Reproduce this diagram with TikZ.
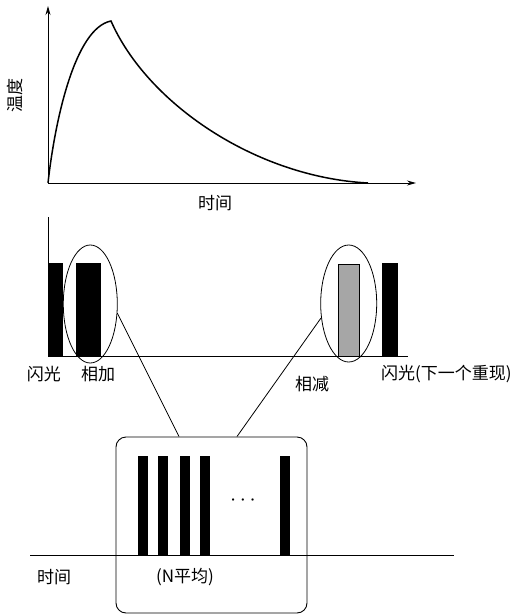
\documentclass[tikz,border=0pt]{standalone}
\usepackage{fontspec}
\newfontfamily\cjk{Noto Sans CJK SC}
\usetikzlibrary{arrows.meta,shapes.geometric}
\begin{document}
\begin{tikzpicture}[x=1pt,y=-1pt,
  axis/.style={line width=0.9pt},
  arr/.style={-{Stealth[length=9pt,width=5pt]}},
  blackbar/.style={fill=black,draw=black},
  graybar/.style={fill=black!35,draw=black,line width=0.9pt},
  lbl/.style={font=\cjk\fontsize{17}{17}\selectfont,inner sep=0pt},
  ring/.style={draw,line width=0.8pt},
  conn/.style={line width=0.8pt},
  bigbox/.style={draw,rounded corners=10pt,line width=0.9pt}]
\useasboundingbox (0,0) rectangle (522,616);
% top plot
\coordinate (o) at (48,183);
\coordinate (ytop) at (48,6);
\coordinate (xend) at (416,183);
\draw[axis,arr] (o) -- (ytop);
\draw[axis,arr] (o) -- (xend);
\coordinate (peak) at (111,21);
\coordinate (tail) at (368,183);
\draw[line width=1.5pt] (o) .. controls (55,120) and (75,28) .. (peak)
  .. controls (147,103) and (255,177) .. (tail);
\node[lbl,rotate=90] (temp) at (15,95) {温度};
\node[lbl] (t1) at (215,203) {时间};
% middle
\coordinate (m0) at (48,356);
\coordinate (mtop) at (48,217);
\coordinate (mend) at (408,356);
\draw[axis] (mtop) -- (m0) -- (mend);
\fill[blackbar] (48,263.5) rectangle (62,356);
\fill[blackbar] (76,263.5) rectangle (100,356);
\draw[graybar] (338.5,264) rectangle (359.5,356);
\fill[blackbar] (382,263.5) rectangle (397,356);
\node[ring,ellipse,minimum width=54pt,minimum height=118pt,inner sep=0pt] (e1) at (90.3,304) {};
\node[ring,ellipse,minimum width=56pt,minimum height=117pt,inner sep=0pt] (e2) at (348.7,303.5) {};
\node[lbl] (flash1) at (44,374) {闪光};
\node[lbl] (add) at (98,374) {相加};
\node[lbl] (sub) at (312,384) {相减};
\node[lbl,anchor=west] (flash2) at (381,374) {闪光(下一个重现)};
% bottom box
\node[bigbox,minimum width=191pt,minimum height=176pt,inner sep=0pt] (box) at (211.5,525) {};
\coordinate (b1) at (179,436.5);
\coordinate (b2) at (237,436.5);
\coordinate (e1p) at (117.3,313);
\coordinate (e2p) at (321,318);
\draw[conn] (e1p) -- (b1);
\draw[conn] (e2p) -- (b2);
\coordinate (l0) at (30,555);
\coordinate (l1) at (454,555);
\draw[axis] (l0) -- (l1);
\foreach \cx in {143,163,185,205,285}
  \fill[blackbar] (\cx-4.5,456) rectangle (\cx+4.5,555);
\node[inner sep=0pt] (dots) at (243,501) {\scalebox{2.2}{$\cdots$}};
\node[lbl] (t2) at (54,577) {时间};
\node[lbl] (avg) at (185,577) {(N平均)};
\end{tikzpicture}
\end{document}
